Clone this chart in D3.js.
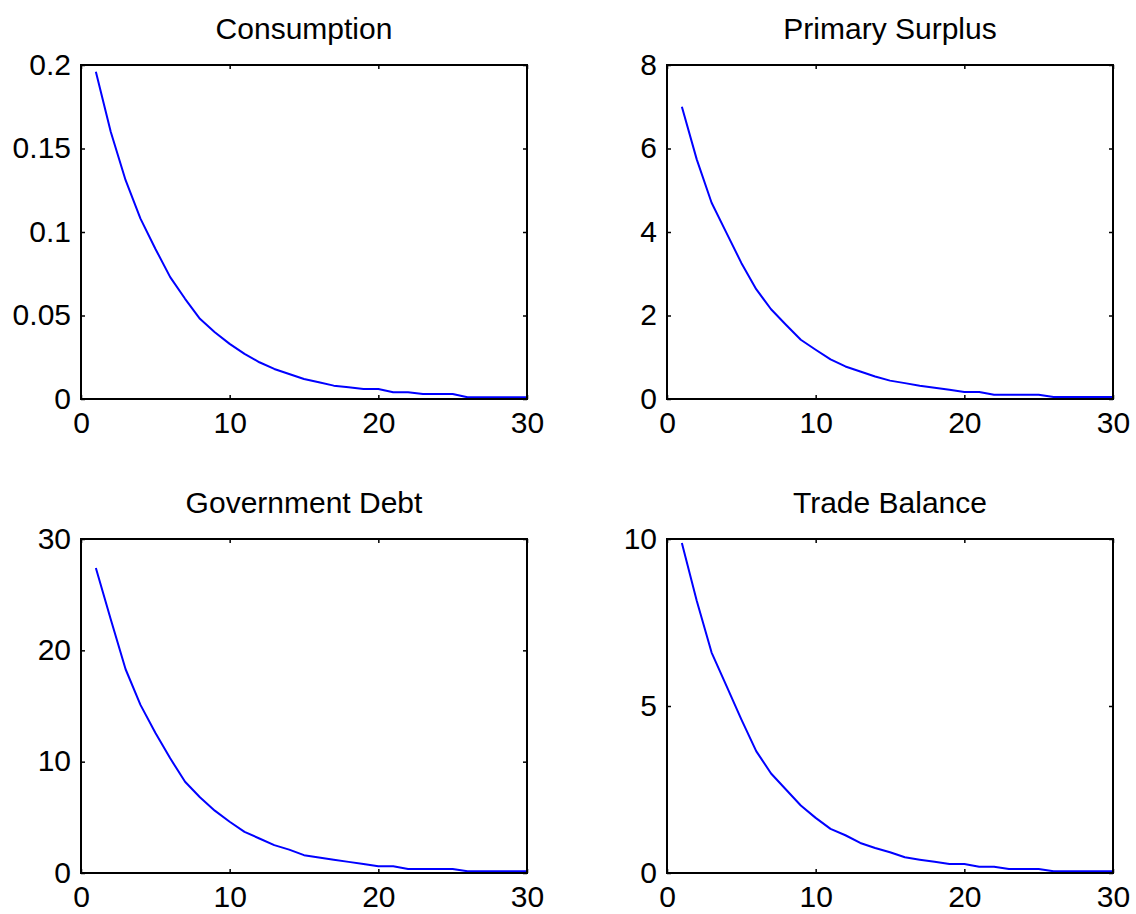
<!DOCTYPE html>
<html>
<head>
<meta charset="utf-8">
<script src="https://cdn.jsdelivr.net/npm/d3@7"></script>
<style>
  html, body { margin: 0; padding: 0; background: #ffffff; }
  svg { display: block; font-family: "Liberation Sans", Arial, Helvetica, sans-serif; }
</style>
</head>
<body>
<svg id="chart" width="1136" height="914"></svg>
<script>
// Impulse responses over 30 periods
const periods = [1,2,3,4,5,6,7,8,9,10,11,12,13,14,15,16,17,18,19,20,21,22,23,24,25,26,27,28,29,30];

const consumption = [0.196,0.160,0.131,0.108,0.090,0.073,0.060,0.048,0.040,0.033,
                     0.027,0.022,0.018,0.015,0.012,0.010,0.008,0.007,0.006,0.006,
                     0.004,0.004,0.003,0.003,0.003,0.001,0.001,0.001,0.001,0.001];

const primarySurplus = [7.00,5.74,4.70,3.98,3.26,2.63,2.15,1.78,1.42,1.18,
                        0.95,0.78,0.66,0.54,0.44,0.38,0.32,0.27,0.22,0.17,
                        0.17,0.10,0.10,0.10,0.10,0.05,0.05,0.05,0.05,0.05];

const governmentDebt = [27.4,22.8,18.3,15.1,12.6,10.3,8.2,6.8,5.6,4.6,
                        3.7,3.1,2.5,2.1,1.6,1.4,1.2,1.0,0.8,0.6,
                        0.6,0.35,0.35,0.35,0.35,0.15,0.15,0.15,0.15,0.15];

const tradeBalance = [9.88,8.15,6.60,5.60,4.60,3.65,2.98,2.50,2.02,1.65,
                      1.32,1.13,0.90,0.75,0.62,0.47,0.40,0.34,0.27,0.27,
                      0.19,0.19,0.12,0.12,0.12,0.05,0.05,0.05,0.05,0.05];

const titles = ["Consumption", "Primary Surplus", "Government Debt", "Trade Balance"];
const xTicks = [0, 10, 20, 30];
const yTicksConsumption = [0, 0.05, 0.1, 0.15, 0.2];
const yTicksSurplus = [0, 2, 4, 6, 8];
const yTicksDebt = [0, 10, 20, 30];
const yTicksTrade = [0, 5, 10];

const panels = [
  { title: titles[0], values: consumption,    yMax: 0.2, yTicks: yTicksConsumption, left: 81,  top: 65  },
  { title: titles[1], values: primarySurplus, yMax: 8,   yTicks: yTicksSurplus,     left: 667, top: 65  },
  { title: titles[2], values: governmentDebt, yMax: 30,  yTicks: yTicksDebt,        left: 81,  top: 539 },
  { title: titles[3], values: tradeBalance,   yMax: 10,  yTicks: yTicksTrade,       left: 667, top: 539 }
];

const plotW = 446, plotH = 334;
const fontSize = 30;
const svg = d3.select("#chart");

panels.forEach(p => {
  const g = svg.append("g").attr("transform", `translate(${p.left},${p.top})`);
  const x = d3.scaleLinear().domain([0, 30]).range([0, plotW]);
  const y = d3.scaleLinear().domain([0, p.yMax]).range([plotH, 0]);

  // inward ticks on all four sides
  const tick = 4;
  const bottom = g.append("g").attr("transform", `translate(0,${plotH})`)
    .call(d3.axisBottom(x).tickValues(xTicks).tickSize(-tick).tickPadding(13).tickFormat(d3.format("d")));
  const top = g.append("g")
    .call(d3.axisTop(x).tickValues(xTicks).tickSize(-tick).tickFormat(""));
  const left = g.append("g")
    .call(d3.axisLeft(y).tickValues(p.yTicks).tickSize(-tick).tickPadding(10).tickFormat(d => String(d)));
  const right = g.append("g").attr("transform", `translate(${plotW},0)`)
    .call(d3.axisRight(y).tickValues(p.yTicks).tickSize(-tick).tickFormat(""));

  [bottom, top, left, right].forEach(a => {
    a.select(".domain").remove();
    a.selectAll(".tick line").attr("stroke", "#000").attr("stroke-width", 1.5);
    a.selectAll(".tick text").attr("fill", "#000")
      .style("font-size", fontSize + "px")
      .style("font-family", "'Liberation Sans', Arial, sans-serif");
  });
  bottom.selectAll(".tick text").attr("dy", "0.71em");
  left.selectAll(".tick text").attr("dy", "0.3em");

  // the response line
  const line = d3.line().x((d, i) => x(periods[i])).y(d => y(d));
  g.append("path")
    .datum(p.values)
    .attr("fill", "none")
    .attr("stroke", "#0000ff")
    .attr("stroke-width", 2)
    .attr("stroke-linejoin", "round")
    .attr("d", line);

  // axes box
  g.append("rect")
    .attr("x", 0).attr("y", 0)
    .attr("width", plotW).attr("height", plotH)
    .attr("fill", "none")
    .attr("stroke", "#000")
    .attr("stroke-width", 2);

  g.append("text")
    .attr("x", plotW / 2)
    .attr("y", -26)
    .attr("text-anchor", "middle")
    .attr("fill", "#000")
    .style("font-size", fontSize + "px")
    .text(p.title);
});
</script>
</body>
</html>
